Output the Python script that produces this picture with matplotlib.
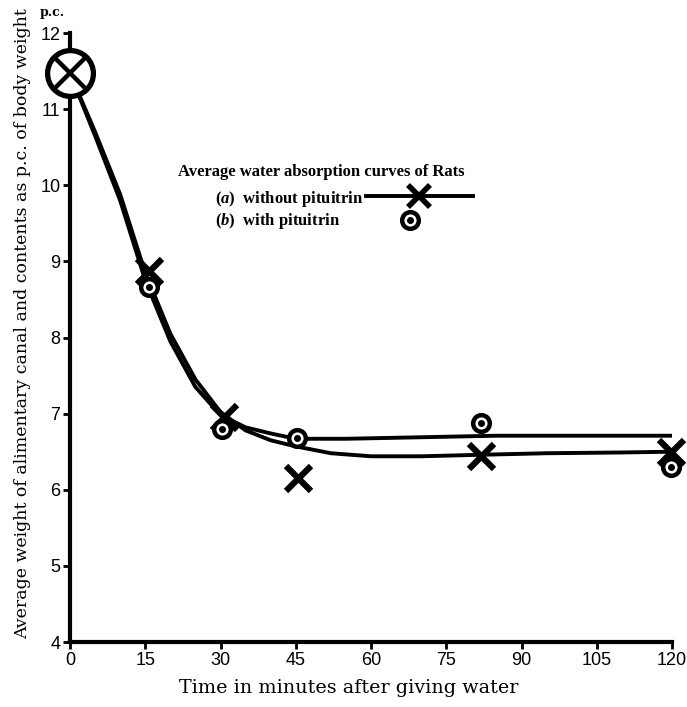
import matplotlib
matplotlib.use("Agg")
import matplotlib.pyplot as plt
from matplotlib.lines import Line2D

# ---- data ----
xticks = [0, 15, 30, 45, 60, 75, 90, 105, 120]
yticks = [4, 5, 6, 7, 8, 9, 10, 11, 12]

# observed points: (a) without pituitrin (crosses)
a_x = [15.8, 30.6, 45.5, 82, 119.8]
a_y = [8.87, 6.95, 6.16, 6.45, 6.50]
# (b) with pituitrin (dotted circles)
b_x = [15.8, 30.2, 45.2, 82, 119.8]
b_y = [8.67, 6.80, 6.68, 6.88, 6.30]
# common starting point
start_x = [0]
start_y = [11.47]

# drawn curves
curve_a_x = [0, 5, 10, 15, 20, 25, 30, 35, 40, 45, 52, 60, 70, 82, 95, 110, 120]
curve_a_y = [11.47, 10.7, 9.88, 8.85, 8.05, 7.45, 7.02, 6.78, 6.65, 6.57, 6.48, 6.44, 6.44, 6.46, 6.48, 6.49, 6.50]
curve_b_x = [0, 5, 10, 15, 20, 25, 30, 35, 40, 45, 55, 70, 85, 100, 120]
curve_b_y = [11.47, 10.65, 9.8, 8.75, 7.95, 7.35, 6.98, 6.82, 6.74, 6.67, 6.67, 6.69, 6.71, 6.71, 6.71]

legend_title = 'Average water absorption curves of Rats'
label_a = '($a$)  without pituitrin'
label_b = '($b$)  with pituitrin'

plt.rcParams['mathtext.fontset'] = 'custom'
plt.rcParams['mathtext.it'] = 'Liberation Serif:italic:bold'
plt.rcParams['mathtext.rm'] = 'Liberation Serif:bold'

fig = plt.figure(figsize=(6.87, 7.07), dpi=100)
ax = fig.add_axes([0.1019, 0.0919, 0.8763, 0.8614])

lw = 2.8
ax.plot(curve_a_x, curve_a_y, color='black', lw=lw, solid_capstyle='round')
ax.plot(curve_b_x, curve_b_y, color='black', lw=lw, solid_capstyle='round')

ax.plot(a_x, a_y, ls='none', marker='x', ms=18, mew=4.5, color='black', clip_on=False)
ax.plot(b_x, b_y, ls='none', marker='o', ms=12, mew=3.2, mfc='white', mec='black', clip_on=False)
ax.plot(b_x, b_y, ls='none', marker='o', ms=4, color='black', clip_on=False)

ax.plot(start_x, start_y, ls='none', marker='o', ms=33, mew=3.8, mfc='white', mec='black', clip_on=False, zorder=5)
ax.plot(start_x, start_y, ls='none', marker='x', ms=22, mew=3.2, color='black', clip_on=False, zorder=6)

ax.set_xlim(0, 120)
ax.set_ylim(4, 12)
ax.set_xticks(xticks)
ax.set_yticks(yticks)
ax.set_xticklabels([str(v) for v in xticks], fontfamily='Liberation Sans', fontsize=13)
ax.set_yticklabels([str(v) for v in yticks], fontfamily='Liberation Sans', fontsize=13)
for s in ['top', 'right']:
    ax.spines[s].set_visible(False)
for s in ['left', 'bottom']:
    ax.spines[s].set_linewidth(3)
ax.tick_params(axis='both', direction='out', length=5, width=2, pad=2)

ax.set_xlabel('Time in minutes after giving water', fontfamily='DejaVu Serif', fontsize=13.8)
ax.xaxis.set_label_coords(0.463, -0.06)
ax.set_ylabel('Average weight of alimentary canal and contents as p.c. of body weight',
              fontfamily='DejaVu Serif', fontsize=12.5)
ax.yaxis.set_label_coords(-0.064, 0.522)
ax.text(-0.03, 1.034, 'p.c.', transform=ax.transAxes, fontfamily='DejaVu Serif',
        fontsize=9, fontweight='bold', ha='center', va='center')

# legend block
txt = dict(transform=ax.transAxes, fontfamily='Liberation Serif', fontweight='bold',
           fontsize=12, ha='left', va='center')
ax.text(0.1794, 0.7718, legend_title, **txt)
ax.text(0.2409, 0.7274, label_a, **txt)
ax.text(0.2409, 0.6913, label_b, **txt)

h_a = Line2D([], [], color='black', lw=lw, marker='x', ms=16, mew=4)
h_b = Line2D([], [], ls='none', marker='o', ms=12, mew=3.2, mfc='white', mec='black')
h_bdot = Line2D([], [], ls='none', marker='o', ms=4, color='black')
leg1 = ax.legend([h_a], [''], loc='center left', bbox_to_anchor=(0.4917, 0.7307),
                 frameon=False, borderpad=0, borderaxespad=0, handletextpad=0,
                 handlelength=6.4, prop={'size': 12})
ax.add_artist(leg1)
ax.legend([(h_b, h_bdot)], [''], loc='center', bbox_to_anchor=(0.5648, 0.6913),
          frameon=False, borderpad=0, borderaxespad=0, handletextpad=0,
          handlelength=1.2, prop={'size': 12})

fig.savefig('out.png', dpi=100)
